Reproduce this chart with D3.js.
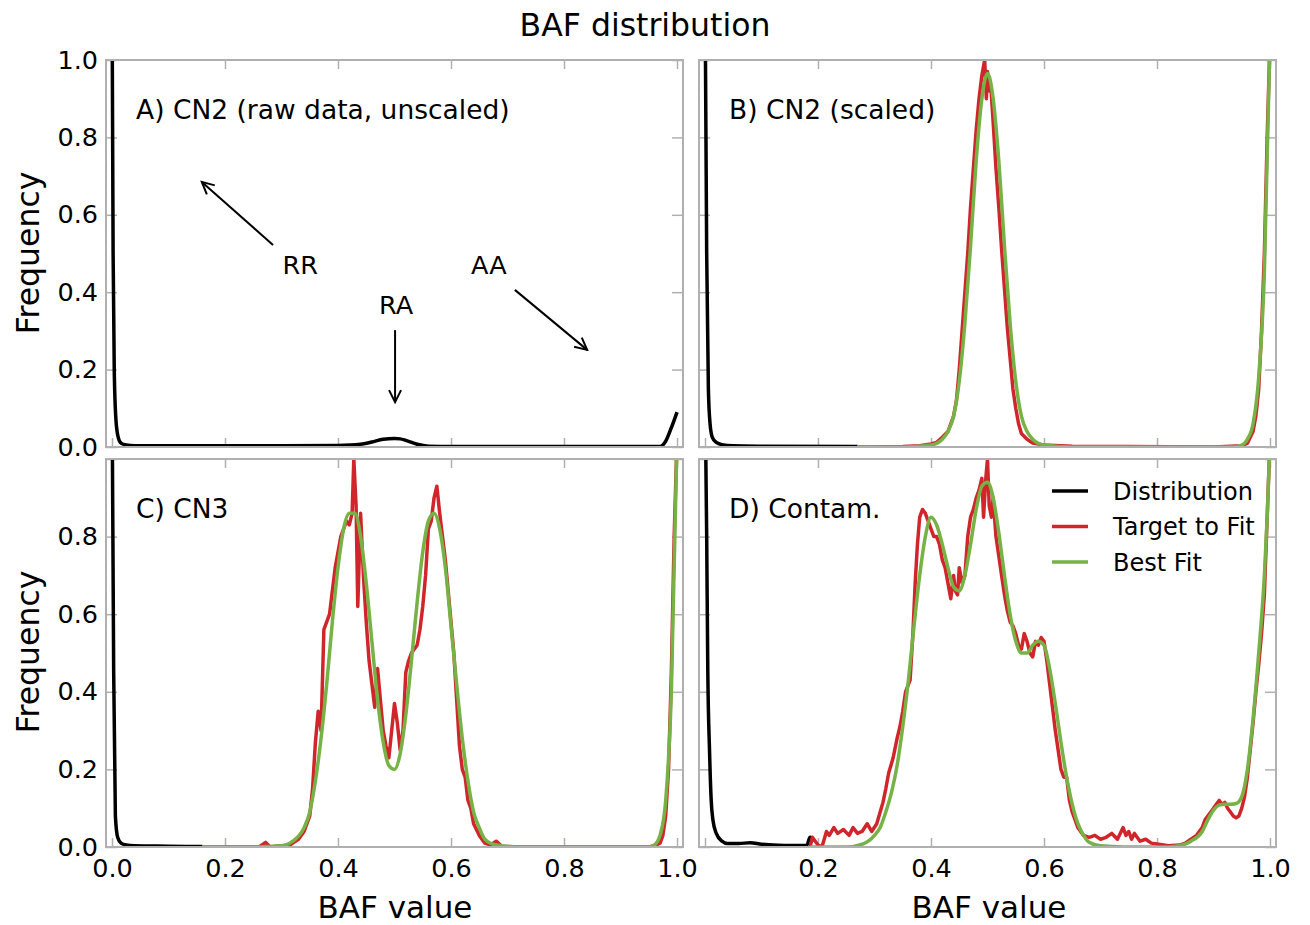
<!DOCTYPE html>
<html><head><meta charset="utf-8">
<script src="https://cdn.jsdelivr.net/npm/d3@7"></script>
<style>body{margin:0;background:#fff}svg text{font-family:"DejaVu Sans",sans-serif;fill:#000}</style>
</head><body><svg id="c" width="1310" height="925"></svg>
<script>
const xTicks = [0.0, 0.2, 0.4, 0.6, 0.8, 1.0];
const xLabelsC = [0.0, 0.2, 0.4, 0.6, 0.8, 1.0];
const xLabelsD = [0.2, 0.4, 0.6, 0.8, 1.0];
const yTicksTop = [0.0, 0.2, 0.4, 0.6, 0.8, 1.0];
const yTicksBottom = [0.0, 0.2, 0.4, 0.6, 0.8];
const panelTitles = ["A) CN2 (raw data, unscaled)", "B) CN2 (scaled)", "C) CN3", "D) Contam."];
const legendLabels = ["Distribution", "Target to Fit", "Best Fit"];

const distA = [[0.0,1.2],[0.002,0.5],[0.004,0.2],[0.007,0.07],[0.011,0.025],[0.016,0.01],[0.025,0.005],[0.04,0.003],[0.1,0.003],[0.3,0.003],[0.4,0.004],[0.44,0.007],[0.46,0.013],[0.48,0.02],[0.5,0.022],[0.51,0.021],[0.52,0.017],[0.54,0.007],[0.56,0.002],[0.6,0.001],[0.97,0.001],[0.975,0.005],[0.98,0.015],[0.99,0.05],[1.0,0.09]];
const distB = [[0.0,1.2],[0.003,0.5],[0.006,0.15],[0.009,0.06],[0.013,0.025],[0.02,0.012],[0.03,0.006],[0.05,0.003],[0.1,0.002],[0.27,0.001]];
const distC = [[0.0,1.2],[0.003,0.45],[0.006,0.08],[0.01,0.025],[0.016,0.01],[0.025,0.005],[0.04,0.003],[0.1,0.002],[0.16,0.001]];
const distD = [[0.0,1.2],[0.003,0.8],[0.005,0.45],[0.008,0.25],[0.011,0.12],[0.014,0.07],[0.02,0.035],[0.03,0.015],[0.04,0.009],[0.06,0.009],[0.08,0.011],[0.1,0.007],[0.14,0.004],[0.18,0.004],[0.186,0.025],[0.19,0.015]];

const targetB = [[0.27,0.0],[0.30,0.0],[0.35,0.001],[0.38,0.003],[0.40,0.008],[0.41,0.012],[0.42,0.025],[0.43,0.04],[0.44,0.08],[0.445,0.12],[0.45,0.2],[0.455,0.3],[0.46,0.4],[0.465,0.5],[0.47,0.62],[0.475,0.72],[0.48,0.82],[0.485,0.9],[0.49,0.96],[0.495,1.0],[0.498,0.9],[0.50,0.97],[0.503,0.92],[0.506,0.93],[0.51,0.84],[0.515,0.72],[0.52,0.62],[0.525,0.51],[0.53,0.41],[0.535,0.31],[0.54,0.23],[0.545,0.15],[0.55,0.1],[0.555,0.06],[0.56,0.035],[0.57,0.02],[0.58,0.01],[0.60,0.005],[0.65,0.002],[0.75,0.001],[0.9,0.0],[0.95,0.003],[0.96,0.01],[0.97,0.04],[0.975,0.08],[0.98,0.15],[0.985,0.3],[0.99,0.5],[0.995,0.8],[1.0,1.05]];
const fitB = [[0.27,0],[0.35,0.0],[0.40,0.005],[0.42,0.02],[0.43,0.04],[0.44,0.08],[0.45,0.17],[0.46,0.32],[0.47,0.52],[0.48,0.74],[0.49,0.9],[0.50,0.965],[0.51,0.9],[0.52,0.74],[0.53,0.52],[0.54,0.32],[0.55,0.17],[0.56,0.08],[0.57,0.04],[0.58,0.02],[0.60,0.005],[0.65,0],[0.93,0],[0.95,0.005],[0.96,0.02],[0.97,0.06],[0.98,0.18],[0.99,0.45],[1.0,1.05]];

const targetC = [[0.16,0],[0.26,0],[0.272,0.012],[0.28,0.0],[0.30,0.003],[0.31,0.0],[0.32,0.01],[0.33,0.02],[0.34,0.04],[0.35,0.08],[0.355,0.15],[0.36,0.27],[0.365,0.35],[0.37,0.3],[0.375,0.56],[0.38,0.58],[0.385,0.6],[0.39,0.66],[0.395,0.72],[0.40,0.76],[0.405,0.8],[0.41,0.82],[0.415,0.84],[0.42,0.83],[0.425,0.86],[0.428,1.0],[0.432,0.88],[0.435,0.62],[0.44,0.86],[0.445,0.7],[0.45,0.58],[0.455,0.48],[0.46,0.42],[0.465,0.36],[0.47,0.46],[0.475,0.38],[0.48,0.3],[0.485,0.26],[0.49,0.23],[0.495,0.3],[0.50,0.37],[0.505,0.32],[0.51,0.25],[0.515,0.3],[0.52,0.45],[0.525,0.48],[0.53,0.5],[0.54,0.52],[0.545,0.56],[0.55,0.62],[0.555,0.7],[0.56,0.82],[0.565,0.84],[0.57,0.9],[0.575,0.93],[0.58,0.86],[0.585,0.8],[0.59,0.74],[0.595,0.66],[0.60,0.58],[0.605,0.5],[0.61,0.38],[0.615,0.26],[0.62,0.2],[0.625,0.18],[0.63,0.12],[0.635,0.1],[0.64,0.06],[0.65,0.03],[0.66,0.01],[0.67,0.005],[0.68,0.015],[0.69,0.002],[0.72,0.0],[0.95,0.0],[0.96,0.003],[0.97,0.01],[0.975,0.03],[0.98,0.08],[0.985,0.2],[0.99,0.45],[0.995,0.8],[1.0,1.05]];
const fitC = [[0.16,0],[0.25,0],[0.30,0.003],[0.32,0.015],[0.34,0.05],[0.35,0.09],[0.36,0.17],[0.37,0.28],[0.38,0.42],[0.39,0.58],[0.40,0.72],[0.41,0.82],[0.42,0.86],[0.43,0.86],[0.44,0.8],[0.45,0.68],[0.46,0.53],[0.47,0.38],[0.48,0.27],[0.49,0.21],[0.50,0.2],[0.51,0.24],[0.52,0.34],[0.53,0.48],[0.54,0.63],[0.55,0.76],[0.56,0.84],[0.57,0.86],[0.58,0.82],[0.59,0.72],[0.60,0.57],[0.61,0.42],[0.62,0.28],[0.63,0.17],[0.64,0.09],[0.65,0.05],[0.66,0.02],[0.68,0.005],[0.72,0],[0.95,0],[0.96,0.005],[0.97,0.03],[0.98,0.12],[0.99,0.4],[1.0,1.05]];

const targetD = [[0.186,0.0],[0.19,0.025],[0.2,0.005],[0.207,0.0],[0.215,0.04],[0.22,0.03],[0.228,0.05],[0.235,0.035],[0.245,0.045],[0.255,0.03],[0.262,0.05],[0.27,0.035],[0.278,0.04],[0.287,0.06],[0.295,0.04],[0.304,0.06],[0.31,0.09],[0.315,0.115],[0.32,0.15],[0.325,0.19],[0.333,0.23],[0.34,0.28],[0.345,0.31],[0.35,0.35],[0.355,0.4],[0.363,0.43],[0.368,0.55],[0.372,0.68],[0.376,0.78],[0.38,0.85],[0.385,0.87],[0.39,0.86],[0.395,0.84],[0.40,0.82],[0.405,0.8],[0.41,0.8],[0.415,0.78],[0.42,0.74],[0.425,0.72],[0.43,0.68],[0.435,0.64],[0.44,0.7],[0.443,0.66],[0.447,0.65],[0.45,0.72],[0.455,0.68],[0.46,0.7],[0.465,0.8],[0.47,0.85],[0.475,0.87],[0.48,0.9],[0.485,0.92],[0.49,0.95],[0.493,0.85],[0.497,0.95],[0.50,1.0],[0.503,0.88],[0.507,0.85],[0.51,0.9],[0.515,0.8],[0.52,0.75],[0.525,0.7],[0.53,0.65],[0.535,0.61],[0.54,0.58],[0.545,0.57],[0.55,0.55],[0.555,0.52],[0.56,0.51],[0.565,0.55],[0.57,0.53],[0.575,0.5],[0.58,0.49],[0.585,0.53],[0.59,0.52],[0.595,0.54],[0.60,0.53],[0.605,0.48],[0.61,0.42],[0.615,0.36],[0.62,0.3],[0.625,0.25],[0.63,0.2],[0.635,0.18],[0.64,0.18],[0.645,0.12],[0.65,0.09],[0.655,0.07],[0.66,0.05],[0.67,0.03],[0.68,0.025],[0.69,0.03],[0.70,0.02],[0.71,0.025],[0.72,0.035],[0.73,0.02],[0.74,0.05],[0.745,0.03],[0.75,0.04],[0.755,0.02],[0.76,0.035],[0.77,0.015],[0.78,0.02],[0.79,0.01],[0.80,0.008],[0.82,0.003],[0.84,0.005],[0.85,0.01],[0.86,0.02],[0.87,0.03],[0.88,0.05],[0.885,0.07],[0.89,0.08],[0.90,0.1],[0.905,0.11],[0.91,0.12],[0.915,0.11],[0.92,0.115],[0.925,0.1],[0.93,0.09],[0.935,0.08],[0.94,0.075],[0.945,0.08],[0.95,0.1],[0.955,0.13],[0.96,0.18],[0.965,0.25],[0.97,0.32],[0.975,0.4],[0.98,0.47],[0.985,0.55],[0.99,0.65],[0.995,0.85],[1.0,1.05]];
const fitD = [[0.186,0],[0.25,0.0],[0.28,0.008],[0.30,0.03],[0.31,0.05],[0.32,0.09],[0.33,0.14],[0.34,0.21],[0.35,0.31],[0.36,0.43],[0.37,0.57],[0.38,0.7],[0.39,0.8],[0.40,0.85],[0.41,0.83],[0.42,0.78],[0.43,0.72],[0.44,0.67],[0.45,0.66],[0.46,0.7],[0.47,0.78],[0.48,0.87],[0.49,0.93],[0.50,0.94],[0.51,0.9],[0.52,0.81],[0.53,0.7],[0.54,0.6],[0.55,0.53],[0.56,0.5],[0.57,0.5],[0.58,0.52],[0.59,0.53],[0.60,0.52],[0.61,0.46],[0.62,0.37],[0.63,0.27],[0.64,0.18],[0.65,0.11],[0.66,0.06],[0.67,0.03],[0.68,0.012],[0.70,0.003],[0.74,0],[0.82,0],[0.84,0.003],[0.86,0.015],[0.88,0.04],[0.89,0.07],[0.90,0.095],[0.91,0.108],[0.92,0.11],[0.93,0.11],[0.94,0.112],[0.95,0.13],[0.96,0.2],[0.97,0.33],[0.98,0.5],[0.99,0.7],[0.995,0.85],[1.0,1.05]];

const annotations = [
  {text:"RR", tx:0.333, ty:0.47, x1:0.285, y1:0.522, x2:0.159, y2:0.685},
  {text:"RA", tx:0.503, ty:0.367, x1:0.501, y1:0.302, x2:0.501, y2:0.116},
  {text:"AA", tx:0.667, ty:0.47, x1:0.713, y1:0.406, x2:0.841, y2:0.251}
];

const COL = {dist:"#000000", target:"#d0262b", fit:"#76b245"};
const svg = d3.select("#c");
const defs = svg.append("defs");
defs.append("marker").attr("id","arr").attr("viewBox","-13 -8 15 16").attr("refX",0).attr("refY",0)
  .attr("markerWidth",15).attr("markerHeight",16).attr("markerUnits","userSpaceOnUse").attr("orient","auto")
  .append("path").attr("d","M-12,-6 L0,0 L-12,6").attr("fill","none").attr("stroke","#000").attr("stroke-width",2);

const panels = [
  {x0:106, y0:60, w:577, h:387, title:panelTitles[0], dist:distA, xLab:null, yLab:yTicksTop},
  {x0:699, y0:60, w:577, h:387, title:panelTitles[1], dist:distB, target:targetB, fit:fitB, xLab:null, yLab:null},
  {x0:106, y0:459, w:577, h:388, title:panelTitles[2], dist:distC, target:targetC, fit:fitC, xLab:xLabelsC, yLab:yTicksBottom},
  {x0:699, y0:459, w:577, h:388, title:panelTitles[3], dist:distD, target:targetD, fit:fitD, xLab:xLabelsD, yLab:null, legend:true}
];

panels.forEach((p,i)=>{
  const x = d3.scaleLinear().domain([-0.0106,1.0106]).range([p.x0, p.x0+p.w]);
  const y = d3.scaleLinear().domain([0,1]).range([p.y0+p.h, p.y0]);
  const g = svg.append("g");
  const cid = "clip"+i;
  defs.append("clipPath").attr("id",cid).append("rect").attr("x",p.x0).attr("y",p.y0).attr("width",p.w).attr("height",p.h);

  const tickStyle = sel => { sel.select(".domain").remove(); sel.selectAll("line").attr("stroke","#b0b0b0").attr("stroke-width",1.5); };
  g.append("g").attr("transform",`translate(0,${p.y0+p.h})`).call(d3.axisBottom(x).tickValues(xTicks).tickSize(-9).tickFormat("")).call(tickStyle);
  g.append("g").attr("transform",`translate(0,${p.y0})`).call(d3.axisTop(x).tickValues(xTicks).tickSize(-9).tickFormat("")).call(tickStyle);
  g.append("g").attr("transform",`translate(${p.x0},0)`).call(d3.axisLeft(y).tickValues(yTicksTop).tickSize(-11).tickFormat("")).call(tickStyle);
  g.append("g").attr("transform",`translate(${p.x0+p.w},0)`).call(d3.axisRight(y).tickValues(yTicksTop).tickSize(-11).tickFormat("")).call(tickStyle);

  if (p.xLab) {
    const ax = g.append("g").attr("transform",`translate(0,${p.y0+p.h})`).call(d3.axisBottom(x).tickValues(p.xLab).tickSize(0).tickPadding(12).tickFormat(d3.format(".1f")));
    ax.select(".domain").remove();
    ax.selectAll("text").attr("font-size",25.5).attr("font-family","DejaVu Sans");
  }
  if (p.yLab) {
    const ay = g.append("g").attr("transform",`translate(${p.x0},0)`).call(d3.axisLeft(y).tickValues(p.yLab).tickSize(0).tickPadding(8).tickFormat(d3.format(".1f")));
    ay.select(".domain").remove();
    ay.selectAll("text").attr("font-size",25.5).attr("font-family","DejaVu Sans");
  }

  const lineSmooth = d3.line().x(d=>x(d[0])).y(d=>y(d[1])).curve(d3.curveMonotoneX);
  const lineRaw = d3.line().x(d=>x(d[0])).y(d=>y(d[1]));
  const plot = g.append("g").attr("clip-path",`url(#${cid})`);
  plot.append("path").datum(p.dist).attr("d",lineSmooth).attr("fill","none").attr("stroke",COL.dist).attr("stroke-width",3.5).attr("stroke-linejoin","round");
  if (p.target) plot.append("path").datum(p.target).attr("d",lineRaw).attr("fill","none").attr("stroke",COL.target).attr("stroke-width",3.5).attr("stroke-linejoin","round");
  if (p.fit) plot.append("path").datum(p.fit).attr("d",lineSmooth).attr("fill","none").attr("stroke",COL.fit).attr("stroke-width",3.5).attr("stroke-linejoin","round");

  g.append("rect").attr("x",p.x0).attr("y",p.y0).attr("width",p.w).attr("height",p.h).attr("fill","none").attr("stroke","#b0b0b0").attr("stroke-width",2);

  g.append("text").attr("x",p.x0+30).attr("y",p.y0+59).attr("font-size",26.5).text(p.title);

  if (i===0) {
    annotations.forEach(a=>{
      g.append("text").attr("x",x(a.tx)).attr("y",y(a.ty)).attr("dy","0.36em").attr("text-anchor","middle").attr("font-size",25.5).text(a.text);
      g.append("line").attr("x1",x(a.x1)).attr("y1",y(a.y1)).attr("x2",x(a.x2)).attr("y2",y(a.y2))
        .attr("stroke","#000").attr("stroke-width",2).attr("marker-end","url(#arr)");
    });
  }
  if (p.legend) {
    const cols = [COL.dist, COL.target, COL.fit];
    legendLabels.forEach((lab,k)=>{
      const yy = 491 + k*35.5;
      g.append("line").attr("x1",1052).attr("x2",1088).attr("y1",yy).attr("y2",yy).attr("stroke",cols[k]).attr("stroke-width",3.5);
      g.append("text").attr("x",1113).attr("y",yy).attr("dy","0.36em").attr("font-size",24).text(lab);
    });
  }
});

svg.append("text").attr("x",645).attr("y",36).attr("text-anchor","middle").attr("font-size",31.5).text("BAF distribution");
svg.append("text").attr("transform","translate(39,253) rotate(-90)").attr("text-anchor","middle").attr("font-size",31.5).text("Frequency");
svg.append("text").attr("transform","translate(39,652) rotate(-90)").attr("text-anchor","middle").attr("font-size",31.5).text("Frequency");
svg.append("text").attr("x",395).attr("y",918).attr("text-anchor","middle").attr("font-size",31).text("BAF value");
svg.append("text").attr("x",989).attr("y",918).attr("text-anchor","middle").attr("font-size",31).text("BAF value");
</script></body></html>
